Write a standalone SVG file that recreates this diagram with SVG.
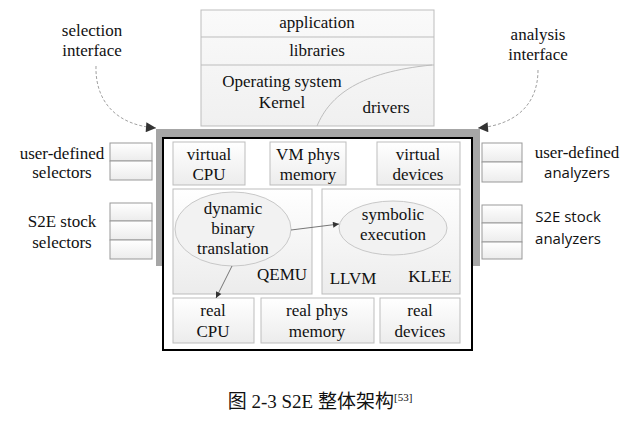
<svg xmlns="http://www.w3.org/2000/svg" width="641" height="428" viewBox="0 0 641 428">
<defs>
<linearGradient id="g" x1="0" y1="0" x2="0" y2="1"><stop offset="0" stop-color="#ffffff"/><stop offset="1" stop-color="#ececec"/></linearGradient>
<linearGradient id="g2" x1="0" y1="0" x2="0" y2="1"><stop offset="0" stop-color="#fafafa"/><stop offset="1" stop-color="#f0f0f0"/></linearGradient>
<marker id="ah" viewBox="0 0 10 10" refX="10" refY="5" markerWidth="8" markerHeight="6" orient="auto" markerUnits="userSpaceOnUse"><path d="M0,0 L10,5 L0,10 z" fill="#333"/></marker>
<marker id="ah2" viewBox="0 0 10 10" refX="10" refY="5" markerWidth="14" markerHeight="10" orient="auto" markerUnits="userSpaceOnUse"><path d="M0,0 L10,5 L0,10 z" fill="#333"/></marker>
</defs>
<style>
.t{font-family:"Liberation Serif","Times New Roman",serif;font-size:17px;fill:#111;text-anchor:middle}
.s{font-family:"Open Sans","Liberation Sans",sans-serif;font-size:15px;fill:#111;text-anchor:middle}
.b{fill:url(#g);stroke:#bdbdbd;stroke-width:1}
.sb{fill:url(#g);stroke:#999;stroke-width:1}
.el{fill:#f2f2f2;stroke:#c8c8c8;stroke-width:1}
.c{fill:none;stroke:#555;stroke-width:0.8}
.d{fill:none;stroke:#888;stroke-width:0.8;stroke-dasharray:3,2}
</style>
<rect width="641" height="428" fill="#fff"/>
<g id="stack">
<rect x="201" y="10" width="233" height="116" fill="url(#g2)" stroke="#bdbdbd"/>
<line x1="201" y1="37" x2="434" y2="37" stroke="#bdbdbd"/>
<line x1="201" y1="65" x2="434" y2="65" stroke="#bdbdbd"/>
<path d="M317,126 C330,95 360,72 432,65" fill="none" stroke="#bdbdbd"/>
<text class="t" x="317" y="28">application</text>
<text class="t" x="317" y="56">libraries</text>
<text class="t" x="282" y="87">Operating system</text>
<text class="t" x="282" y="108">Kernel</text>
<text class="t" x="386" y="113">drivers</text>
</g>
<g id="frame">
<rect x="156" y="129" width="324" height="137" fill="#a6a6a6"/>
<rect x="163" y="138" width="309" height="212" fill="#fff" stroke="#000" stroke-width="2"/>
</g>
<g id="virtual-cpu"><rect class="b" x="173" y="142" width="72" height="43"/><text class="t" x="209" y="160">virtual</text><text class="t" x="209" y="180">CPU</text></g>
<g id="vm-phys-memory"><rect class="b" x="270" y="142" width="76" height="43"/><text class="t" x="308" y="160">VM phys</text><text class="t" x="308" y="180">memory</text></g>
<g id="virtual-devices"><rect class="b" x="377" y="142" width="83" height="43"/><text class="t" x="418" y="160">virtual</text><text class="t" x="418" y="180">devices</text></g>
<g id="qemu"><rect class="b" x="173" y="189" width="139" height="105"/><text class="t" x="282" y="280">QEMU</text></g>
<g id="klee"><rect class="b" x="322" y="189" width="138" height="105"/><text class="t" x="353" y="284">LLVM</text><text class="t" x="430" y="282">KLEE</text></g>
<g id="dbt"><ellipse class="el" cx="233" cy="229" rx="58" ry="37"/><text class="t" x="233" y="214">dynamic</text><text class="t" x="233" y="234">binary</text><text class="t" x="233" y="254">translation</text></g>
<g id="symbolic"><ellipse class="el" cx="393" cy="228" rx="54" ry="27"/><text class="t" x="393" y="220">symbolic</text><text class="t" x="393" y="240">execution</text></g>
<g id="real-cpu"><rect class="b" x="173" y="298" width="81" height="45"/><text class="t" x="213" y="316">real</text><text class="t" x="213" y="337">CPU</text></g>
<g id="real-phys-memory"><rect class="b" x="261" y="298" width="113" height="45"/><text class="t" x="317" y="316">real phys</text><text class="t" x="317" y="337">memory</text></g>
<g id="real-devices"><rect class="b" x="380" y="298" width="80" height="45"/><text class="t" x="420" y="316">real</text><text class="t" x="420" y="337">devices</text></g>
<g id="selectors">
<rect class="sb" x="110" y="143" width="42" height="18"/><rect class="sb" x="110" y="161" width="42" height="19"/>
<rect class="sb" x="110" y="203" width="42" height="18"/><rect class="sb" x="110" y="221" width="42" height="19"/><rect class="sb" x="110" y="240" width="42" height="19"/>
<text class="t" x="62" y="159">user-defined</text><text class="t" x="62" y="178">selectors</text>
<text class="t" x="62" y="227">S2E stock</text><text class="t" x="62" y="248">selectors</text>
</g>
<g id="analyzers">
<rect class="sb" x="482" y="143" width="40" height="19"/><rect class="sb" x="482" y="162" width="40" height="20"/>
<rect class="sb" x="482" y="205" width="40" height="18"/><rect class="sb" x="482" y="223" width="40" height="19"/><rect class="sb" x="482" y="242" width="40" height="17"/>
<text class="t" x="577" y="158">user-defined</text><text class="s" x="577" y="178">analyzers</text>
<text class="s" x="568" y="222">S2E stock</text><text class="s" x="568" y="244">analyzers</text>
</g>
<g id="interfaces">
<text class="t" x="92" y="36">selection</text><text class="t" x="92" y="56">interface</text>
<text class="t" x="538" y="40">analysis</text><text class="t" x="538" y="60">interface</text>
</g>
<g id="connectors">
<path class="d" d="M96,66 C95,100 115,125 156,128" marker-end="url(#ah2)"/>
<path class="d" d="M538,70 C538,105 515,125 478,128" marker-end="url(#ah2)"/>
<line class="c" x1="291" y1="230" x2="339" y2="224" marker-end="url(#ah)"/>
<line class="c" x1="232" y1="266" x2="216" y2="298" marker-end="url(#ah)"/>
</g>
<g id="caption">
<text x="320" y="408" font-family="Liberation Serif, Noto Sans CJK SC, serif" font-size="19" fill="#111" text-anchor="middle">图 2-3 S2E 整体架构<tspan font-size="11" dy="-7">[53]</tspan></text>
</g>
</svg>
